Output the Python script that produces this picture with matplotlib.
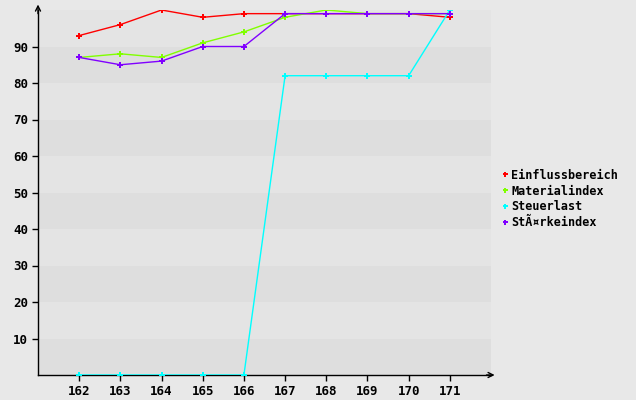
import matplotlib.pyplot as plt

# chart data
years = [162, 163, 164, 165, 166, 167, 168, 169, 170, 171]
einfluss = [93, 96, 100, 98, 99, 99, 99, 99, 99, 98]
material = [87, 88, 87, 91, 94, 98, 100, 99, 99, 99]
steuer = [0, 0, 0, 0, 0, 82, 82, 82, 82, 100]
staerke = [87, 85, 86, 90, 90, 99, 99, 99, 99, 99]

series = [
    ("Einflussbereich", einfluss, "#ff0000"),
    ("Materialindex", material, "#80ff00"),
    ("Steuerlast", steuer, "#00ffff"),
    ("StÃ¤rkeindex", staerke, "#8000ff"),
]

plt.rcParams["font.family"] = ["DejaVu Sans Mono"]
plt.rcParams["font.weight"] = "bold"
plt.rcParams["font.size"] = 9

W, H = 636, 400
fig = plt.figure(figsize=(W / 100, H / 100), dpi=100, facecolor="#e8e8e8")
ax = fig.add_axes([38 / W, 25 / H, (491 - 38) / W, (375 - 10) / H])
ax.set_facecolor("#e8e8e8")

# alternating horizontal bands
for i in range(10):
    col = "#dedede" if i % 2 == 0 else "#e4e4e4"
    ax.axhspan(i * 10, (i + 1) * 10, color=col, lw=0, zorder=0)

for name, vals, col in series:
    ax.plot(years, vals, color=col, lw=1, marker="P", ms=4.5, mew=0, label=name, zorder=3)

ax.set_xlim(161, 172)
ax.set_ylim(0, 100)
ax.set_xticks(years)
ax.set_yticks(range(10, 100, 10))
ax.tick_params(direction="out", length=4, width=1, color="black", pad=3)
for s in ["top", "right"]:
    ax.spines[s].set_visible(False)
for s in ["left", "bottom"]:
    ax.spines[s].set_linewidth(1)

# axis arrows
ax.annotate("", xy=(0, 1.015), xytext=(0, 0.99), xycoords="axes fraction",
            arrowprops=dict(arrowstyle="->", lw=1, color="black", shrinkA=0, shrinkB=0))
ax.annotate("", xy=(1.008, 0), xytext=(0.99, 0), xycoords="axes fraction",
            arrowprops=dict(arrowstyle="->", lw=1, color="black", shrinkA=0, shrinkB=0))

leg = fig.legend(loc="center left", bbox_to_anchor=(496 / W, 1 - 199 / H), frameon=False,
                 fontsize=8.5, handlelength=0.5, handletextpad=0.3, labelspacing=0.25,
                 borderpad=0, markerscale=0.8)
for h in leg.legend_handles:
    h.set_linestyle("none")

fig.savefig("out.png", dpi=100, facecolor=fig.get_facecolor())
